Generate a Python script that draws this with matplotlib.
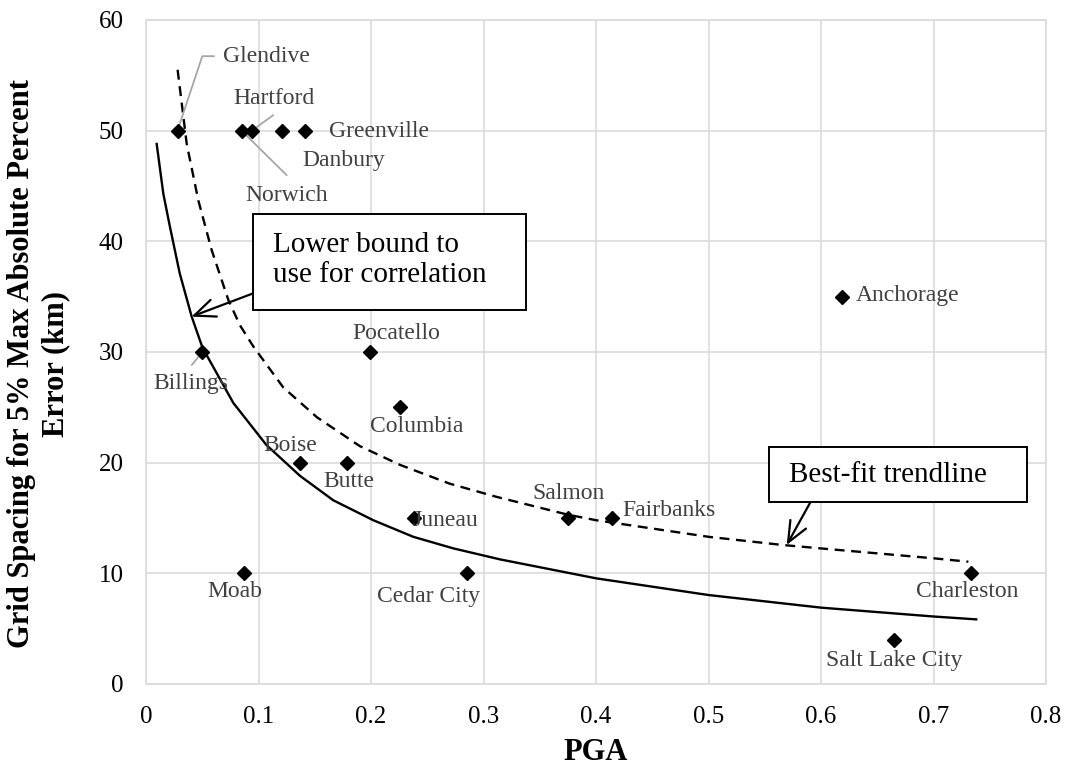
import matplotlib
matplotlib.use("Agg")
import matplotlib.pyplot as plt
from matplotlib.patches import Rectangle

plt.rcParams['font.family'] = ['Liberation Serif', 'DejaVu Serif']

# ---- data ----
cities = ["Glendive", "Norwich", "Hartford", "Danbury", "Greenville", "Billings",
          "Pocatello", "Columbia", "Boise", "Butte", "Juneau", "Moab", "Cedar City",
          "Salmon", "Fairbanks", "Anchorage", "Charleston", "Salt Lake City"]
pga = [0.028, 0.085, 0.094, 0.1205, 0.141, 0.050,
       0.199, 0.226, 0.137, 0.179, 0.238, 0.087, 0.285,
       0.375, 0.414, 0.619, 0.733, 0.665]
spacing = [50, 50, 50, 50, 50, 30,
           30, 25, 20, 20, 15, 10, 10,
           15, 15, 35, 10, 4]

# lower bound curve (solid)
lb_x = [0.0095, 0.0154, 0.0213, 0.030, 0.0406, 0.0495, 0.054, 0.0776, 0.107, 0.137,
        0.1665, 0.202, 0.2376, 0.273, 0.3147, 0.4, 0.5, 0.6, 0.7, 0.738]
lb_y = [48.8, 44.3, 41.3, 37.1, 33.2, 30.6, 29.7, 25.4, 21.6, 18.8,
        16.6, 14.8, 13.3, 12.26, 11.26, 9.55, 8.04, 6.9, 6.1, 5.84]

# best-fit trendline (dashed)
bf_x = [0.0281, 0.0362, 0.0465, 0.0584, 0.0732, 0.0836, 0.0954, 0.122, 0.152, 0.19,
        0.2258, 0.270, 0.312, 0.375, 0.4, 0.5, 0.566, 0.6, 0.7, 0.731]
bf_y = [55.5, 48.8, 43.7, 39.2, 34.7, 32.4, 30.5, 26.8, 24.1, 21.5,
        19.8, 18.1, 16.9, 15.3, 14.8, 13.3, 12.56, 12.25, 11.36, 11.05]

xticks = [0, 0.1, 0.2, 0.3, 0.4, 0.5, 0.6, 0.7, 0.8]
xtick_labels = ["0", "0.1", "0.2", "0.3", "0.4", "0.5", "0.6", "0.7", "0.8"]
yticks = [0, 10, 20, 30, 40, 50, 60]

# ---- layout: label offsets in pixels (dx, dy with dy up), alignment ----
label_pos = {
    "Glendive": (45.5, 74.5, "left"),
    "Norwich": (45, -64.5, "center"),
    "Hartford": (22.5, 32.5, "center"),
    "Danbury": (62, -29.5, "center"),
    "Greenville": (24.7, -1.2, "left"),
    "Billings": (-11.5, -31.4, "center"),
    "Pocatello": (26.8, 18.6, "center"),
    "Columbia": (16, -18.75, "center"),
    "Boise": (-10, 17.6, "center"),
    "Butte": (1.3, -19, "center"),
    "Juneau": (32, -2, "center"),
    "Moab": (-9, -18.4, "center"),
    "Cedar City": (-38, -23.4, "center"),
    "Salmon": (0.8, 24.7, "center"),
    "Fairbanks": (10.5, 7.3, "left"),
    "Anchorage": (13.6, 1.5, "left"),
    "Charleston": (-3.2, -18.4, "center"),
    "Salt Lake City": (0.6, -20.3, "center"),
}

W, H = 1068, 768
fig = plt.figure(figsize=(W / 100, H / 100), dpi=100)
ax = fig.add_axes([146 / W, 1 - 684 / H, 900 / W, 664 / H])

grid_c = "#d9d9d9"
ax.set_xlim(0, 0.8)
ax.set_ylim(0, 60)
ax.set_xticks(xticks)
ax.set_xticklabels(xtick_labels)
ax.set_yticks(yticks)
ax.grid(True, color=grid_c, linewidth=1.1)
ax.set_axisbelow(True)
for s in ax.spines.values():
    s.set_color(grid_c)
    s.set_linewidth(1.1)
ax.tick_params(length=0, labelsize=18, colors="black")
ax.tick_params(axis="x", pad=16)
ax.tick_params(axis="y", pad=16)

ax.plot(lb_x, lb_y, color="black", linewidth=1.7, solid_joinstyle="round")
ax.plot(bf_x, bf_y, color="black", linewidth=1.7, linestyle=(0, (4.2, 2.8)))
ax.plot(pga, spacing, linestyle="none", marker="D", markersize=7.6,
        color="black", zorder=5)

label_c = "#404040"
leader_c = "#a6a6a6"
for name, x, y in zip(cities, pga, spacing):
    dx, dy, ha = label_pos[name]
    ax.annotate(name, xy=(x, y), xytext=(dx, dy), textcoords="offset pixels",
                ha=ha, va="center", fontsize=17, color=label_c, zorder=6)

# leader lines
def leader(name, start, **kw):
    i = cities.index(name)
    ax.annotate("", xy=(pga[i], spacing[i]), xytext=start, textcoords="offset pixels",
                arrowprops=dict(arrowstyle="-", color=leader_c, lw=1.3,
                                shrinkA=0, shrinkB=2, **kw), zorder=4)

leader("Glendive", (36.5, 74.5), connectionstyle="angle,angleA=180,angleB=71.6,rad=0")
leader("Hartford", (21.5, 15.5))
leader("Norwich", (45, -44.5))
leader("Billings", (-10.5, -13.1))

# annotation boxes
def fx(px):
    return px / W

def fy(py):
    return 1 - py / H

fig.patches.append(Rectangle((fx(253.3), fy(310)), (526 - 253.3) / W, 96 / H,
                             transform=fig.transFigure, facecolor="white",
                             edgecolor="black", linewidth=1.4, zorder=10))
fig.text(fx(273.3), fy(260), "Lower bound to\nuse for correlation", fontsize=21,
         ha="left", va="center", linespacing=1.22, zorder=11)
ax.annotate("", xy=(0.0405, 33.2), xytext=(fx(253.3), fy(293.3)),
            textcoords="figure fraction",
            arrowprops=dict(arrowstyle="->,head_length=0.75,head_width=0.32",
                            mutation_scale=20, color="black", lw=1.6,
                            shrinkA=0, shrinkB=0), zorder=9)

fig.patches.append(Rectangle((fx(769.3), fy(501.7)), (1026.7 - 769.3) / W, 55 / H,
                             transform=fig.transFigure, facecolor="white",
                             edgecolor="black", linewidth=1.4, zorder=10))
fig.text(fx(789.3), fy(475), "Best-fit trendline", fontsize=21,
         ha="left", va="center", zorder=11)
ax.annotate("", xy=(0.5695, 12.56), xytext=(fx(810.7), fy(501.7)),
            textcoords="figure fraction",
            arrowprops=dict(arrowstyle="->,head_length=0.75,head_width=0.32",
                            mutation_scale=20, color="black", lw=1.6,
                            shrinkA=0, shrinkB=0), zorder=9)

# axis titles
fig.text(fx(596), fy(760), "PGA", fontsize=22, fontweight="bold",
         ha="center", va="baseline")
fig.text(fx(38.5), fy(364), "Grid Spacing for 5% Max Absolute Percent\nError (km)",
         fontsize=22, fontweight="bold", rotation=90, ha="center", va="center",
         multialignment="center", linespacing=1.25)

fig.savefig("out.png", dpi=100)
